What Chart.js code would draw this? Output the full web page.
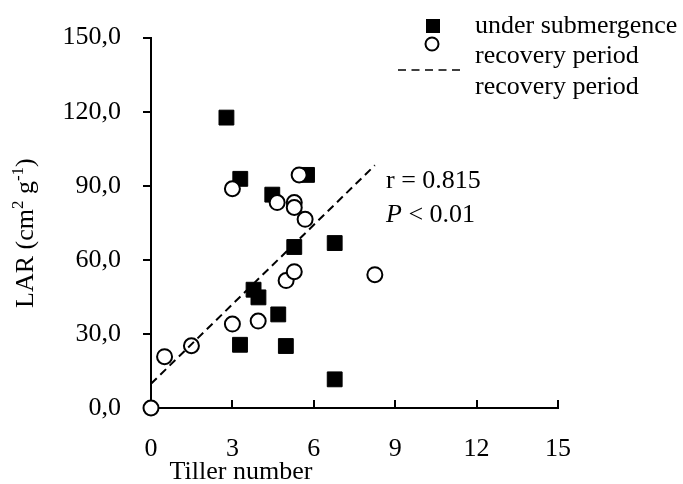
<!DOCTYPE html>
<html>
<head>
<meta charset="utf-8">
<script src="https://cdn.jsdelivr.net/npm/chart.js@4/dist/chart.umd.min.js"></script>
<style>
  html, body { margin: 0; padding: 0; background: #fff; }
</style>
</head>
<body>
<canvas id="myChart" width="683" height="484"></canvas>
<script>
// Axis ticks and labels
const xTicks = [0, 3, 6, 9, 12, 15];
const yTicks = [0, 30, 60, 90, 120, 150];
const yTickLabels = ["0,0", "30,0", "60,0", "90,0", "120,0", "150,0"];

// Under submergence (filled squares)
const subTillers = [2.78, 3.29, 5.75, 4.47, 5.28, 6.77, 3.78, 3.96, 4.69, 3.28, 4.97, 6.77];
const subLAR = [117.6, 92.8, 94.4, 86.4, 65.2, 66.8, 47.9, 44.8, 37.9, 25.6, 25.1, 11.6];

// Recovery period (open circles)
const recTillers = [0, 0.5, 1.49, 3.0, 3.95, 4.98, 5.28, 8.25, 3.0, 4.65, 5.28, 5.28, 5.68, 5.46];
const recLAR = [0, 20.8, 25.2, 34.0, 35.2, 51.6, 55.2, 54.0, 88.8, 83.2, 83.2, 81.2, 76.4, 94.4];

// Regression line for recovery period
const fitTillers = [0, 8.25];
const fitLAR = [9.8, 98.3];

const legendLabels = ["under submergence", "recovery period", "recovery period"];
const statR = "r = 0.815";
const statP = ["P", " < 0.01"];
const xTitle = "Tiller number";

const serif = "'Liberation Serif', 'Times New Roman', serif";
const chrt = document.getElementById("myChart");

const toPoints = (xs, ys) => xs.map((x, i) => ({ x: x, y: ys[i] }));

// Draws inward x ticks, axis titles, stats text and the legend
const extras = {
  id: "extras",
  afterDraw(chart) {
    const ctx = chart.ctx;
    const area = chart.chartArea;
    const xs = chart.scales.x;
    ctx.save();

    ctx.strokeStyle = "#000";
    ctx.lineWidth = 2;
    xTicks.slice(1).forEach((v) => {
      const px = Math.round(xs.getPixelForValue(v));
      ctx.beginPath();
      ctx.moveTo(px, area.bottom);
      ctx.lineTo(px, area.bottom - 8);
      ctx.stroke();
    });

    ctx.fillStyle = "#000";
    ctx.textBaseline = "alphabetic";

    // x title
    ctx.font = "26px " + serif;
    ctx.textAlign = "center";
    ctx.fillText(xTitle, 241, 479);

    // y title with superscripts
    ctx.save();
    ctx.translate(33, 308);
    ctx.rotate(-Math.PI / 2);
    ctx.textAlign = "left";
    const parts = [["LAR (cm", false], ["2", true], [" g", false], ["-1", true], [")", false]];
    let pos = 0;
    parts.forEach(([t, sup]) => {
      ctx.font = (sup ? "17px " : "26px ") + serif;
      ctx.fillText(t, pos, sup ? -10 : 0);
      pos += ctx.measureText(t).width;
    });
    ctx.restore();

    // stats
    ctx.textAlign = "left";
    ctx.font = "26px " + serif;
    ctx.fillText(statR, 386, 188);
    ctx.font = "italic 26px " + serif;
    ctx.fillText(statP[0], 386, 222);
    const pw = ctx.measureText(statP[0]).width;
    ctx.font = "26px " + serif;
    ctx.fillText(statP[1], 386 + pw, 222);

    // legend
    ctx.fillRect(426, 19, 14, 14);
    ctx.beginPath();
    ctx.arc(432, 44, 6.5, 0, Math.PI * 2);
    ctx.fillStyle = "#fff";
    ctx.fill();
    ctx.lineWidth = 2;
    ctx.stroke();
    ctx.beginPath();
    ctx.setLineDash([8, 5.5]);
    ctx.lineWidth = 1.5;
    ctx.moveTo(398, 70);
    ctx.lineTo(461, 70);
    ctx.stroke();
    ctx.setLineDash([]);
    ctx.fillStyle = "#000";
    ctx.fillText(legendLabels[0], 475, 33);
    ctx.fillText(legendLabels[1], 475, 63);
    ctx.fillText(legendLabels[2], 475, 94);

    ctx.restore();
  },
};

new Chart(chrt, {
  type: "scatter",
  data: {
    datasets: [
      {
        label: legendLabels[0],
        data: toPoints(subTillers, subLAR),
        pointStyle: "rect",
        pointRadius: 10.5,
        backgroundColor: "#000",
        borderColor: "#000",
        borderWidth: 1,
        order: 2,
        clip: false,
      },
      {
        label: legendLabels[1],
        data: toPoints(recTillers, recLAR),
        pointStyle: "circle",
        pointRadius: 7.5,
        backgroundColor: "#fff",
        borderColor: "#000",
        borderWidth: 2,
        order: 1,
        clip: false,
      },
      {
        type: "line",
        label: legendLabels[2],
        data: toPoints(fitTillers, fitLAR),
        borderColor: "#000",
        borderWidth: 2,
        borderDash: [8, 5],
        pointRadius: 0,
        fill: false,
        order: 0,
        clip: false,
      },
    ],
  },
  options: {
    responsive: false,
    animation: false,
    layout: { padding: { top: 33, right: 125, left: 0, bottom: 0 } },
    plugins: {
      legend: { display: false },
      tooltip: { enabled: false },
    },
    scales: {
      x: {
        type: "linear",
        min: 0,
        max: 15,
        afterFit: (s) => { s.height = 76; },
        afterBuildTicks: (s) => { s.ticks = xTicks.map((v) => ({ value: v })); },
        grid: { drawOnChartArea: false, drawTicks: false },
        border: { color: "#000", width: 2 },
        ticks: {
          padding: 26,
          color: "#000",
          maxRotation: 0,
          autoSkip: false,
          font: { family: serif, size: 26 },
          callback: (v, i) => String(xTicks[i]),
        },
      },
      y: {
        min: 0,
        max: 150,
        afterFit: (s) => { s.width = 151; },
        afterBuildTicks: (s) => { s.ticks = yTicks.map((v) => ({ value: v })); },
        grid: { drawOnChartArea: false, drawTicks: true, tickLength: 8, color: "#000", lineWidth: 2 },
        border: { color: "#000", width: 2 },
        ticks: {
          padding: 22,
          color: "#000",
          autoSkip: false,
          font: { family: serif, size: 26 },
          callback: (v, i) => yTickLabels[i],
        },
      },
    },
  },
  plugins: [extras],
});
</script>
</body>
</html>
